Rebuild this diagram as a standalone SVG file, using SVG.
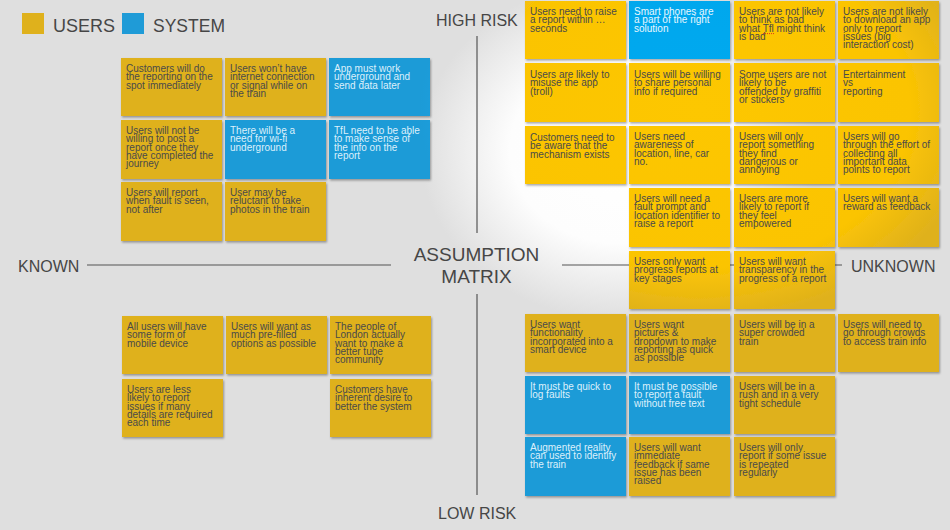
<svg xmlns="http://www.w3.org/2000/svg" width="950" height="530" viewBox="0 0 950 530">
  <defs>
    <!-- soft spotlight on the board -->
    <radialGradient id="bgGlow" gradientUnits="userSpaceOnUse" cx="0" cy="0" r="1" gradientTransform="translate(620 150) scale(200 170)">
      <stop offset="0" stop-color="#ffffff"/>
      <stop offset="0.55" stop-color="#fdfdfd"/>
      <stop offset="1" stop-color="#dfdfdf"/>
    </radialGradient>
    <!-- sticky-note colours, lit in the high-risk / unknown corner -->
    <radialGradient id="yel" gradientUnits="userSpaceOnUse" cx="0" cy="0" r="1" gradientTransform="translate(700 110) scale(280 210)">
      <stop offset="0" stop-color="#fdc700"/>
      <stop offset="0.75" stop-color="#fbc403"/>
      <stop offset="1" stop-color="#dfb11c"/>
    </radialGradient>
    <radialGradient id="blu" gradientUnits="userSpaceOnUse" cx="0" cy="0" r="1" gradientTransform="translate(700 110) scale(280 210)">
      <stop offset="0" stop-color="#00a9f0"/>
      <stop offset="0.75" stop-color="#04a7ec"/>
      <stop offset="1" stop-color="#1f9bd7"/>
    </radialGradient>
    <filter id="shadow" x="-10%" y="-10%" width="125%" height="130%">
      <feDropShadow dx="1" dy="1.5" stdDeviation="1" flood-color="#000" flood-opacity="0.35"/>
    </filter>
  </defs>
  <style>
    .lbl { font-family: "Liberation Sans", Arial, Helvetica, sans-serif; fill: #464646; }
    .axis { stroke: #555; stroke-width: 1.2; fill: none; }
    .note { filter: url(#shadow); }
    .y { fill: url(#yel); }
    .b { fill: url(#blu); }
    .t { font-family: "Liberation Sans", Arial, Helvetica, sans-serif; font-size: 10px; fill: #4a4a4a; }
    .tb { font-family: "Liberation Sans", Arial, Helvetica, sans-serif; font-size: 10px; fill: #dcf0fb; }
  </style>

  <!-- board -->
  <rect width="950" height="530" fill="#dfdfdf"/>
  <rect width="950" height="530" fill="url(#bgGlow)"/>

  <!-- legend -->
  <g id="legend">
    <rect x="22" y="13" width="22" height="21" fill="#dfb11c"/>
    <text class="lbl" x="53" y="32" font-size="18">USERS</text>
    <rect x="122" y="13" width="22" height="21" fill="#1f9bd7"/>
    <text class="lbl" x="153" y="32" font-size="17.5">SYSTEM</text>
  </g>

  <!-- axes -->
  <g id="connectors">
    <line class="axis" x1="87" y1="265" x2="391" y2="265"/>
    <line class="axis" x1="562" y1="265" x2="842" y2="265"/>
    <line class="axis" x1="477" y1="36" x2="477" y2="233"/>
    <line class="axis" x1="477" y1="294" x2="477" y2="495"/>
  </g>

  <g id="axis-labels">
    <text class="lbl" x="436" y="26" font-size="16">HIGH RISK</text>
    <text class="lbl" x="438" y="519" font-size="16">LOW RISK</text>
    <text class="lbl" x="18" y="272" font-size="16">KNOWN</text>
    <text class="lbl" x="851" y="272" font-size="16">UNKNOWN</text>
    <text class="lbl" x="476.5" y="261" font-size="19" text-anchor="middle">ASSUMPTION</text>
    <text class="lbl" x="476.5" y="283" font-size="19" text-anchor="middle">MATRIX</text>
  </g>

  <!-- known / high risk -->
  <g id="n-tl-1"><rect class="note y" x="121" y="58" width="101" height="58"/>
    <text class="t"><tspan x="126" y="72">Customers will do</tspan><tspan x="126" dy="8.3">the reporting on the</tspan><tspan x="126" dy="8.3">spot immediately</tspan></text></g>
  <g id="n-tl-2"><rect class="note y" x="225" y="58" width="101" height="58"/>
    <text class="t"><tspan x="230" y="72">Users won’t have</tspan><tspan x="230" dy="8.3">internet connection</tspan><tspan x="230" dy="8.3">or signal while on</tspan><tspan x="230" dy="8.3">the train</tspan></text></g>
  <g id="n-tl-3"><rect class="note b" x="329" y="58" width="101" height="58"/>
    <text class="tb"><tspan x="334" y="72">App must work</tspan><tspan x="334" dy="8.3">underground and</tspan><tspan x="334" dy="8.3">send data later</tspan></text></g>
  <g id="n-tl-4"><rect class="note y" x="121" y="120" width="101" height="59"/>
    <text class="t"><tspan x="126" y="134">Users will not be</tspan><tspan x="126" dy="8.3">willing to post a</tspan><tspan x="126" dy="8.3">report once they</tspan><tspan x="126" dy="8.3">have completed the</tspan><tspan x="126" dy="8.3">journey</tspan></text></g>
  <g id="n-tl-5"><rect class="note b" x="225" y="120" width="101" height="59"/>
    <text class="tb"><tspan x="230" y="134">There will be a</tspan><tspan x="230" dy="8.3">need for wi-fi</tspan><tspan x="230" dy="8.3">underground</tspan></text></g>
  <g id="n-tl-6"><rect class="note b" x="329" y="120" width="101" height="59"/>
    <text class="tb"><tspan x="334" y="134">TfL need to be able</tspan><tspan x="334" dy="8.3">to make sense of</tspan><tspan x="334" dy="8.3">the info on the</tspan><tspan x="334" dy="8.3">report</tspan></text></g>
  <g id="n-tl-7"><rect class="note y" x="121" y="182" width="101" height="59"/>
    <text class="t"><tspan x="126" y="196">Users will report</tspan><tspan x="126" dy="8.3">when fault is seen,</tspan><tspan x="126" dy="8.3">not after</tspan></text></g>
  <g id="n-tl-8"><rect class="note y" x="225" y="182" width="101" height="59"/>
    <text class="t"><tspan x="230" y="196">User may be</tspan><tspan x="230" dy="8.3">reluctant to take</tspan><tspan x="230" dy="8.3">photos in the train</tspan></text></g>

  <!-- unknown / high risk -->
  <g id="n-tr-1"><rect class="note y" x="525" y="1" width="101" height="58"/>
    <text class="t"><tspan x="530" y="15">Users need to raise</tspan><tspan x="530" dy="8.3">a report within …</tspan><tspan x="530" dy="8.3">seconds</tspan></text></g>
  <g id="n-tr-2"><rect class="note b" x="629" y="1" width="101" height="58"/>
    <text class="tb" style="fill:#e8f7fe"><tspan x="634" y="15">Smart phones are</tspan><tspan x="634" dy="8.3">a part of the right</tspan><tspan x="634" dy="8.3">solution</tspan></text></g>
  <g id="n-tr-3"><rect class="note y" x="734" y="1" width="101" height="58"/>
    <text class="t"><tspan x="739" y="15">Users are not likely</tspan><tspan x="739" dy="8.3">to think as bad</tspan><tspan x="739" dy="8.3">what Tfl might think</tspan><tspan x="739" dy="8.3">is bad</tspan></text>
    <line x1="763" y1="33.6" x2="774" y2="33.6" stroke="#e0301e" stroke-width="1" stroke-dasharray="1 1"/></g>
  <g id="n-tr-4"><rect class="note y" x="838" y="1" width="101" height="58"/>
    <text class="t"><tspan x="843" y="15">Users are not likely</tspan><tspan x="843" dy="8.3">to download an app</tspan><tspan x="843" dy="8.3">only to report</tspan><tspan x="843" dy="8.3">issues (big</tspan><tspan x="843" dy="8.3">interaction cost)</tspan></text></g>

  <g id="n-tr-5"><rect class="note y" x="525" y="63" width="101" height="59"/>
    <text class="t"><tspan x="530" y="78">Users are likely to</tspan><tspan x="530" dy="8.3">misuse the app</tspan><tspan x="530" dy="8.3">(troll)</tspan></text></g>
  <g id="n-tr-6"><rect class="note y" x="629" y="63" width="101" height="59"/>
    <text class="t"><tspan x="634" y="78">Users will be willing</tspan><tspan x="634" dy="8.3">to share personal</tspan><tspan x="634" dy="8.3">info if required</tspan></text></g>
  <g id="n-tr-7"><rect class="note y" x="734" y="63" width="101" height="59"/>
    <text class="t"><tspan x="739" y="78">Some users are not</tspan><tspan x="739" dy="8.3">likely to be</tspan><tspan x="739" dy="8.3">offended by graffiti</tspan><tspan x="739" dy="8.3">or stickers</tspan></text></g>
  <g id="n-tr-8"><rect class="note y" x="838" y="63" width="101" height="59"/>
    <text class="t"><tspan x="843" y="78">Entertainment</tspan><tspan x="843" dy="8.3">vs</tspan><tspan x="843" dy="8.3">reporting</tspan></text></g>

  <g id="n-tr-9"><rect class="note y" x="525" y="126" width="101" height="58"/>
    <text class="t"><tspan x="530" y="141">Customers need to</tspan><tspan x="530" dy="8.3">be aware that the</tspan><tspan x="530" dy="8.3">mechanism exists</tspan></text></g>
  <g id="n-tr-10"><rect class="note y" x="629" y="126" width="101" height="58"/>
    <text class="t"><tspan x="634" y="140">Users need</tspan><tspan x="634" dy="8.3">awareness of</tspan><tspan x="634" dy="8.3">location, line, car</tspan><tspan x="634" dy="8.3">no.</tspan></text></g>
  <g id="n-tr-11"><rect class="note y" x="734" y="126" width="101" height="58"/>
    <text class="t"><tspan x="739" y="140">Users will only</tspan><tspan x="739" dy="8.3">report something</tspan><tspan x="739" dy="8.3">they find</tspan><tspan x="739" dy="8.3">dangerous or</tspan><tspan x="739" dy="8.3">annoying</tspan></text></g>
  <g id="n-tr-12"><rect class="note y" x="838" y="126" width="101" height="58"/>
    <text class="t"><tspan x="843" y="140">Users will go</tspan><tspan x="843" dy="8.3">through the effort of</tspan><tspan x="843" dy="8.3">collecting all</tspan><tspan x="843" dy="8.3">important data</tspan><tspan x="843" dy="8.3">points to report</tspan></text></g>

  <g id="n-tr-13"><rect class="note y" x="629" y="188" width="101" height="59"/>
    <text class="t"><tspan x="634" y="202">Users will need a</tspan><tspan x="634" dy="8.3">fault prompt and</tspan><tspan x="634" dy="8.3">location identifier to</tspan><tspan x="634" dy="8.3">raise a report</tspan></text></g>
  <g id="n-tr-14"><rect class="note y" x="734" y="188" width="101" height="59"/>
    <text class="t"><tspan x="739" y="202">Users are more</tspan><tspan x="739" dy="8.3">likely to report if</tspan><tspan x="739" dy="8.3">they feel</tspan><tspan x="739" dy="8.3">empowered</tspan></text></g>
  <g id="n-tr-15"><rect class="note y" x="838" y="188" width="101" height="59"/>
    <text class="t"><tspan x="843" y="202">Users will want a</tspan><tspan x="843" dy="8.3">reward as feedback</tspan></text></g>

  <!-- unknown / low risk -->
  <g id="n-br-1"><rect class="note y" x="629" y="251" width="101" height="58"/>
    <text class="t"><tspan x="634" y="265">Users only want</tspan><tspan x="634" dy="8.3">progress reports at</tspan><tspan x="634" dy="8.3">key stages</tspan></text></g>
  <g id="n-br-2"><rect class="note y" x="734" y="251" width="101" height="58"/>
    <text class="t"><tspan x="739" y="265">Users will want</tspan><tspan x="739" dy="8.3">transparency in the</tspan><tspan x="739" dy="8.3">progress of a report</tspan></text></g>

  <g id="n-br-3"><rect class="note y" x="525" y="314" width="101" height="58"/>
    <text class="t"><tspan x="530" y="328">Users want</tspan><tspan x="530" dy="8.3">functionality</tspan><tspan x="530" dy="8.3">incorporated into a</tspan><tspan x="530" dy="8.3">smart device</tspan></text></g>
  <g id="n-br-4"><rect class="note y" x="629" y="314" width="101" height="58"/>
    <text class="t"><tspan x="634" y="328">Users want</tspan><tspan x="634" dy="8.3">pictures &amp;</tspan><tspan x="634" dy="8.3">dropdown to make</tspan><tspan x="634" dy="8.3">reporting as quick</tspan><tspan x="634" dy="8.3">as possible</tspan></text></g>
  <g id="n-br-5"><rect class="note y" x="734" y="314" width="101" height="58"/>
    <text class="t"><tspan x="739" y="328">Users will be in a</tspan><tspan x="739" dy="8.3">super crowded</tspan><tspan x="739" dy="8.3">train</tspan></text></g>
  <g id="n-br-6"><rect class="note y" x="838" y="314" width="101" height="58"/>
    <text class="t"><tspan x="843" y="328">Users will need to</tspan><tspan x="843" dy="8.3">go through crowds</tspan><tspan x="843" dy="8.3">to access train info</tspan></text></g>

  <g id="n-br-7"><rect class="note b" x="525" y="376" width="101" height="58"/>
    <text class="tb"><tspan x="530" y="390">It must be quick to</tspan><tspan x="530" dy="8.3">log faults</tspan></text></g>
  <g id="n-br-8"><rect class="note b" x="629" y="376" width="101" height="58"/>
    <text class="tb"><tspan x="634" y="390">It must be possible</tspan><tspan x="634" dy="8.3">to report a fault</tspan><tspan x="634" dy="8.3">without free text</tspan></text></g>
  <g id="n-br-9"><rect class="note y" x="734" y="376" width="101" height="58"/>
    <text class="t"><tspan x="739" y="390">Users will be in a</tspan><tspan x="739" dy="8.3">rush and in a very</tspan><tspan x="739" dy="8.3">tight schedule</tspan></text></g>

  <g id="n-br-10"><rect class="note b" x="525" y="437" width="101" height="59"/>
    <text class="tb"><tspan x="530" y="451">Augmented reality</tspan><tspan x="530" dy="8.3">can used to identify</tspan><tspan x="530" dy="8.3">the train</tspan></text></g>
  <g id="n-br-11"><rect class="note y" x="629" y="437" width="101" height="59"/>
    <text class="t"><tspan x="634" y="451">Users will want</tspan><tspan x="634" dy="8.3">immediate</tspan><tspan x="634" dy="8.3">feedback if same</tspan><tspan x="634" dy="8.3">issue has been</tspan><tspan x="634" dy="8.3">raised</tspan></text></g>
  <g id="n-br-12"><rect class="note y" x="734" y="437" width="101" height="59"/>
    <text class="t"><tspan x="739" y="451">Users will only</tspan><tspan x="739" dy="8.3">report if some issue</tspan><tspan x="739" dy="8.3">is repeated</tspan><tspan x="739" dy="8.3">regularly</tspan></text></g>

  <!-- known / low risk -->
  <g id="n-bl-1"><rect class="note y" x="122" y="316" width="101" height="58"/>
    <text class="t"><tspan x="127" y="330">All users will have</tspan><tspan x="127" dy="8.3">some form of</tspan><tspan x="127" dy="8.3">mobile device</tspan></text></g>
  <g id="n-bl-2"><rect class="note y" x="226" y="316" width="101" height="58"/>
    <text class="t"><tspan x="231" y="330">Users will want as</tspan><tspan x="231" dy="8.3">much pre-filled</tspan><tspan x="231" dy="8.3">options as possible</tspan></text></g>
  <g id="n-bl-3"><rect class="note y" x="330" y="316" width="101" height="58"/>
    <text class="t"><tspan x="335" y="330">The people of</tspan><tspan x="335" dy="8.3">London actually</tspan><tspan x="335" dy="8.3">want to make a</tspan><tspan x="335" dy="8.3">better tube</tspan><tspan x="335" dy="8.3">community</tspan></text></g>
  <g id="n-bl-4"><rect class="note y" x="122" y="379" width="101" height="58"/>
    <text class="t"><tspan x="127" y="393">Users are less</tspan><tspan x="127" dy="8.3">likely to report</tspan><tspan x="127" dy="8.3">issues if many</tspan><tspan x="127" dy="8.3">details are required</tspan><tspan x="127" dy="8.3">each time</tspan></text></g>
  <g id="n-bl-5"><rect class="note y" x="330" y="379" width="101" height="58"/>
    <text class="t"><tspan x="335" y="393">Customers have</tspan><tspan x="335" dy="8.3">inherent desire to</tspan><tspan x="335" dy="8.3">better the system</tspan></text></g>
</svg>
